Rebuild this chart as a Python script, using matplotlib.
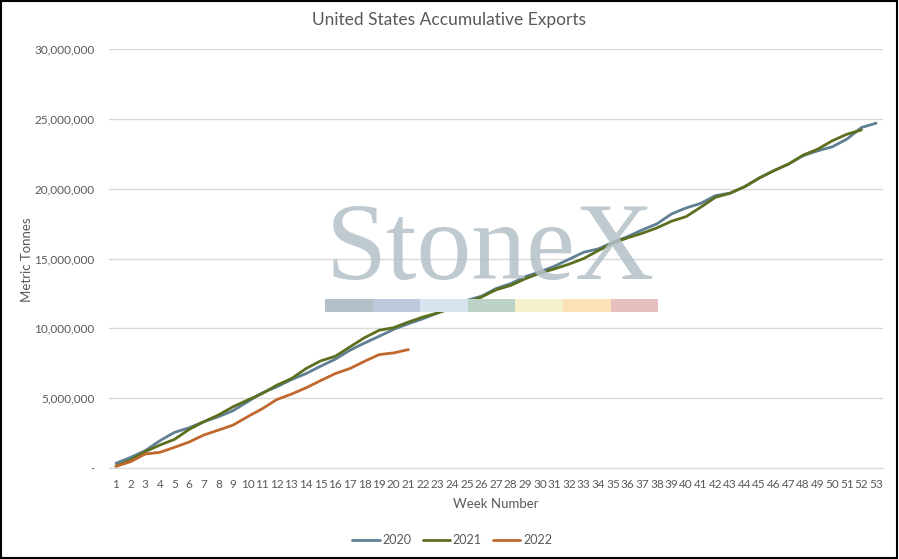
import numpy as np
import matplotlib.pyplot as plt
from matplotlib.patches import Rectangle
from matplotlib.ticker import FuncFormatter

# cumulative exports, million tonnes
weeks_2020 = list(range(1, 54))
exports_2020 = [0.34, 0.76, 1.24, 1.95, 2.55, 2.88, 3.31, 3.67, 4.10, 4.74,
                5.38, 5.81, 6.33, 6.76, 7.29, 7.79, 8.43, 8.95, 9.43, 9.93,
                10.33, 10.69, 11.10, 11.55, 12.00, 12.30, 12.85, 13.20, 13.70, 14.05,
                14.45, 14.95, 15.45, 15.69, 16.17, 16.57, 17.05, 17.48, 18.19, 18.62,
                18.95, 19.50, 19.68, 20.14, 20.76, 21.29, 21.76, 22.36, 22.71, 23.00,
                23.55, 24.38, 24.69]

weeks_2021 = list(range(1, 53))
exports_2021 = [0.14, 0.57, 1.17, 1.64, 2.05, 2.76, 3.31, 3.79, 4.38, 4.86,
                5.33, 5.93, 6.40, 7.12, 7.67, 8.00, 8.67, 9.33, 9.86, 10.05,
                10.45, 10.81, 11.10, 11.45, 11.80, 12.24, 12.76, 13.07, 13.55, 13.95,
                14.26, 14.60, 15.00, 15.57, 16.10, 16.48, 16.81, 17.19, 17.67, 18.00,
                18.67, 19.38, 19.67, 20.14, 20.76, 21.29, 21.76, 22.40, 22.83, 23.43,
                23.90, 24.21]

weeks_2022 = list(range(1, 22))
exports_2022 = [0.12, 0.45, 1.00, 1.12, 1.48, 1.86, 2.36, 2.71, 3.07, 3.67,
                4.24, 4.90, 5.29, 5.74, 6.26, 6.76, 7.12, 7.64, 8.12, 8.24,
                8.48]

series = [("2020", weeks_2020, exports_2020, "#5f7f93"),
          ("2021", weeks_2021, exports_2021, "#5b6f1f"),
          ("2022", weeks_2022, exports_2022, "#c0682e")]

watermark_colors = ["#b4bfc8", "#bccadb", "#d7e4ef", "#bdd3c8",
                    "#f5f1cb", "#fbe1b5", "#e8bfc0"]

plt.rcParams['font.family'] = ['Lato', 'DejaVu Sans']
text_col = "#595959"

fig = plt.figure(figsize=(8.99, 5.59), dpi=100)
ax = fig.add_axes([0.1209, 0.1628, 0.9827 - 0.1209, 0.9123 - 0.1628])

# watermark behind the data
fig.text(0.545, 0.500, "StoneX", family="Liberation Serif", fontsize=79,
         color="#b4c0c8", ha="center", va="baseline", alpha=0.85, zorder=0.5)
seg_w = 47.6 / 899
for i, c in enumerate(watermark_colors):
    fig.patches.append(Rectangle((325 / 899 + i * seg_w, 1 - 312 / 559), seg_w, 13 / 559,
                                 transform=fig.transFigure, facecolor=c,
                                 edgecolor="none", zorder=0.5))
ax.set_facecolor("none")

for name, wk, vals, col in series:
    ax.plot(wk, np.array(vals) * 1e6, color=col, lw=2.0, label=name,
            solid_joinstyle="round", solid_capstyle="round", zorder=3)

ax.set_xlim(0.5, 53.5)
ax.set_ylim(0, 30e6)
ax.set_xticks(range(1, 54))
ax.set_yticks(np.arange(0, 30e6 + 1, 5e6))
ax.yaxis.set_major_formatter(FuncFormatter(lambda v, p: "-" if v == 0 else f"{v:,.0f}"))
ax.grid(axis="y", color="#d9d9d9", lw=1)
ax.set_axisbelow(True)
for s in ["top", "right", "left"]:
    ax.spines[s].set_visible(False)
ax.spines["bottom"].set_color("#d9d9d9")
ax.tick_params(axis="both", length=0, labelsize=8.5, colors=text_col)
ax.tick_params(axis="y", pad=10)
ax.tick_params(axis="x", pad=8)

ax.set_xlabel("Week Number", fontsize=9.5, color=text_col, labelpad=6)
fig.text(27 / 899, 1 - 260 / 559, "Metric Tonnes", rotation=90, ha="center",
         va="center", fontsize=9.5, color=text_col)
fig.text(0.5, 1 - 20 / 559, "United States Accumulative Exports", ha="center",
         va="center", fontsize=12.5, color=text_col)

ax.legend(loc="center", bbox_to_anchor=(0.503, 1 - 540 / 559), bbox_transform=fig.transFigure,
          ncol=3, frameon=False, fontsize=9, handlelength=2.2, handletextpad=0.2,
          columnspacing=0.9, labelcolor=text_col)

# outer border
fig.patches.append(Rectangle((0.001, 0.002), 0.997, 0.996, transform=fig.transFigure,
                             fill=False, edgecolor="black", lw=1.5))

fig.savefig("out.png", dpi=100)
